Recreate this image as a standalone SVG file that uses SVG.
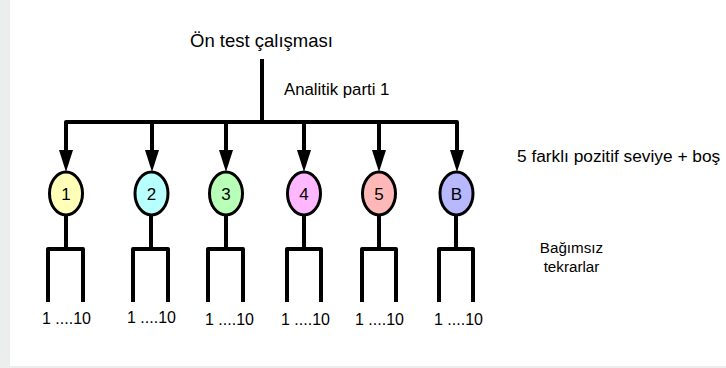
<svg xmlns="http://www.w3.org/2000/svg" width="726" height="368" viewBox="0 0 726 368">
  <style>
    .wire { fill: none; stroke: #000; stroke-width: 4; stroke-linejoin: round; stroke-linecap: butt; }
    .node { stroke: #000; stroke-width: 3; }
    .lbl { font-family: "Liberation Sans", Arial, sans-serif; fill: #000; }
    .num { font-size: 17px; text-anchor: middle; }
    .rep { font-size: 16px; }
  </style>
  <defs>
    <!-- solid triangular head, drawn along +x so orient="auto" points it down the line -->
    <marker id="arrow" viewBox="0 0 22 14" refX="1" refY="7" markerWidth="22" markerHeight="14" markerUnits="userSpaceOnUse" orient="auto">
      <path d="M0,0 L22,7 L0,14 Z" fill="#000"/>
    </marker>
  </defs>

  <!-- page frame -->
  <rect x="0" y="0" width="726" height="368" fill="#ffffff"/>
  <rect x="0" y="0" width="10" height="368" fill="#eceeed"/>
  <rect x="0" y="366" width="726" height="2" fill="#eceeed"/>

  <!-- titles -->
  <text class="lbl" x="190" y="47" font-size="18.5">Ön test çalışması</text>
  <text class="lbl" x="284" y="95" font-size="16.8">Analitik parti 1</text>
  <text class="lbl" x="517" y="162" font-size="17.3">5 farklı pozitif seviye + boş</text>
  <text class="lbl" x="571.5" y="252.5" font-size="15.2" text-anchor="middle">Bağımsız</text>
  <text class="lbl" x="571.5" y="271.5" font-size="15.2" text-anchor="middle">tekrarlar</text>

  <!-- connectors -->
  <g id="connectors">
    <path class="wire" d="M262,59 V122"/>
    <path class="wire" d="M66,126 V122 H457 V126"/>
    <path class="wire" d="M66,122 V151" marker-end="url(#arrow)"/>
    <path class="wire" d="M152,122 V151" marker-end="url(#arrow)"/>
    <path class="wire" d="M226,122 V151" marker-end="url(#arrow)"/>
    <path class="wire" d="M304,122 V151" marker-end="url(#arrow)"/>
    <path class="wire" d="M379,122 V151" marker-end="url(#arrow)"/>
    <path class="wire" d="M457,122 V151" marker-end="url(#arrow)"/>
    <!-- replicate brackets under each level -->
    <path class="wire" d="M66,215 V249 M48,302 V249 H83 V302"/>
    <path class="wire" d="M151,215 V249 M133,302 V249 H168 V302"/>
    <path class="wire" d="M226,215 V249 M208,302 V249 H243 V302"/>
    <path class="wire" d="M304,215 V249 M287,302 V249 H321 V302"/>
    <path class="wire" d="M379,215 V249 M362,302 V249 H396 V302"/>
    <path class="wire" d="M456,215 V249 M439,302 V249 H473 V302"/>
  </g>

  <!-- level nodes -->
  <g id="node-1">
    <ellipse class="node" cx="66" cy="193.5" rx="16.5" ry="21.5" fill="#ffffb8"/>
    <text class="lbl num" x="66" y="200">1</text>
  </g>
  <g id="node-2">
    <ellipse class="node" cx="151.5" cy="193.5" rx="16.5" ry="21.5" fill="#b8ffff"/>
    <text class="lbl num" x="151.5" y="200">2</text>
  </g>
  <g id="node-3">
    <ellipse class="node" cx="226" cy="193.5" rx="16.5" ry="21.5" fill="#b8ffb8"/>
    <text class="lbl num" x="226" y="200">3</text>
  </g>
  <g id="node-4">
    <ellipse class="node" cx="304" cy="193.5" rx="16.5" ry="21.5" fill="#ffb8ff"/>
    <text class="lbl num" x="304" y="200">4</text>
  </g>
  <g id="node-5">
    <ellipse class="node" cx="379" cy="193.5" rx="16.5" ry="21.5" fill="#ffb8b8"/>
    <text class="lbl num" x="379" y="200">5</text>
  </g>
  <g id="node-B">
    <ellipse class="node" cx="456.5" cy="193.5" rx="16.5" ry="21.5" fill="#b8b8ff"/>
    <text class="lbl num" x="456.5" y="200">B</text>
  </g>

  <!-- replicate labels -->
  <g id="replicates">
    <text class="lbl rep" x="42" y="324">1 ....10</text>
    <text class="lbl rep" x="127" y="323">1 ....10</text>
    <text class="lbl rep" x="205" y="325">1 ....10</text>
    <text class="lbl rep" x="281" y="325">1 ....10</text>
    <text class="lbl rep" x="355" y="325">1 ....10</text>
    <text class="lbl rep" x="434" y="325">1 ....10</text>
  </g>
</svg>
